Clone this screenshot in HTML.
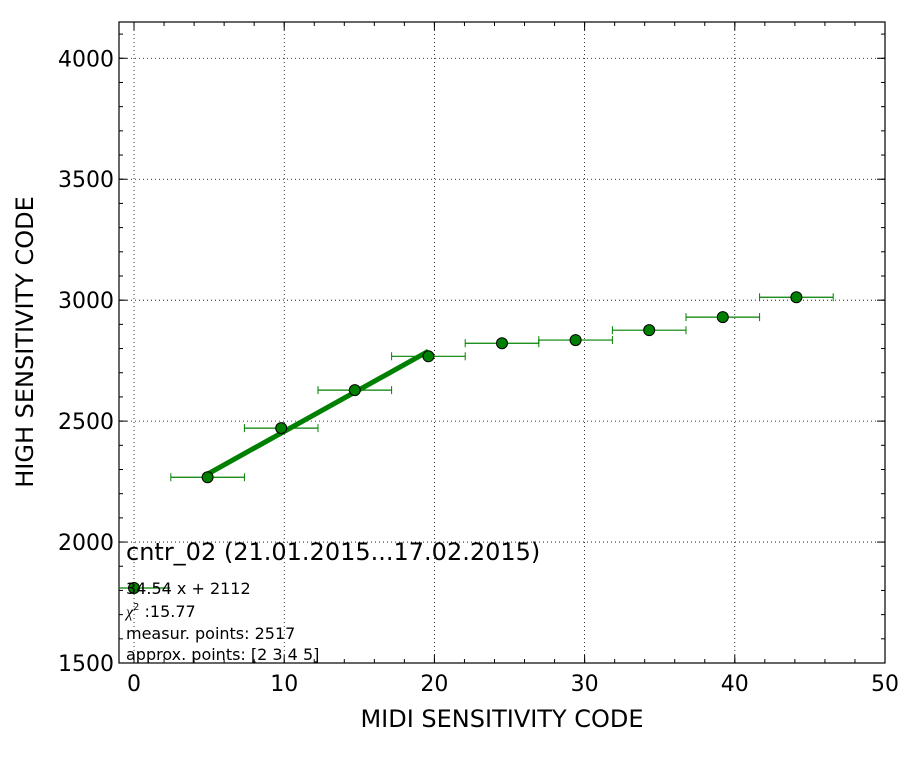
<!DOCTYPE html>
<html><head><meta charset="utf-8"><style>body{margin:0;background:#fff}svg{display:block;font-family:"DejaVu Sans","Liberation Sans",sans-serif}</style></head>
<body>
<svg id="c" width="912" height="762" xmlns="http://www.w3.org/2000/svg"></svg>
<script>
const xVals=[4.9,9.8,14.7,19.6,24.5,29.4,34.3,39.2,44.1];
const yVals=[2268,2471,2628,2768,2822,2835,2876,2930,3012];
const xErr=[2.45,2.45,2.45,2.45,2.45,2.45,2.45,2.45,2.45];
const xTicks=[0,10,20,30,40,50];
const yTicks=[1500,2000,2500,3000,3500,4000];
const fitSlope=[34.54];
const fitIntercept=[2112];
const fitRange=[4.9,19.6];
const L=119,R=885,T=22,B=663,x0=-1,x1=50,y0=1500,y1=4150;
const sx=v=>L+(v-x0)/(x1-x0)*(R-L);
const sy=v=>B-(v-y0)/(y1-y0)*(B-T);
const svg=document.getElementById('c');const NS='http://www.w3.org/2000/svg';
function el(t,a,p){const e=document.createElementNS(NS,t);for(const k in a)e.setAttribute(k,a[k]);(p||svg).appendChild(e);return e;}
// grid
xTicks.forEach(v=>{if(v>x0&&v<x1){const g=el('line',{x1:sx(v),x2:sx(v),y1:T,y2:B,stroke:'#000','stroke-dasharray':'1,3','stroke-width':0.8});

}});
yTicks.forEach(v=>{const g=el('line',{x1:L,x2:R,y1:sy(v),y2:sy(v),stroke:'#000','stroke-dasharray':'1,3','stroke-width':0.8});

});
// minor ticks
for(let v=0;v<=50;v+=2){const x=sx(v);el('line',{x1:x,x2:x,y1:B,y2:B-4,stroke:'#000'});el('line',{x1:x,x2:x,y1:T,y2:T+4,stroke:'#000'});}
for(let v=1500;v<=4100;v+=100){const y=sy(v);el('line',{x1:L,x2:L+4,y1:y,y2:y,stroke:'#000'});el('line',{x1:R,x2:R-4,y1:y,y2:y,stroke:'#000'});}
xTicks.forEach(v=>{const x=sx(v);el('line',{x1:x,x2:x,y1:B,y2:B-8,stroke:'#000'});el('line',{x1:x,x2:x,y1:T,y2:T+8,stroke:'#000'});
const t=el('text',{x:x,y:B+28,'text-anchor':'middle','font-size':22});t.textContent=v;

});
yTicks.forEach(v=>{const y=sy(v);el('line',{x1:L,x2:L+8,y1:y,y2:y,stroke:'#000'});el('line',{x1:R,x2:R-8,y1:y,y2:y,stroke:'#000'});
const t=el('text',{x:L-5,y:y+8,'text-anchor':'end','font-size':22});t.textContent=v;

});
// error bars + points
xVals.forEach((v,i)=>{const y=sy(yVals[i]),a=sx(v-xErr[i]),b=sx(v+xErr[i]);
const g=el('g',{});


el('line',{x1:a,x2:b,y1:y,y2:y,stroke:'#008000','stroke-width':1.2},g);
el('line',{x1:a,x2:a,y1:y-4,y2:y+4,stroke:'#008000'},g);el('line',{x1:b,x2:b,y1:y-4,y2:y+4,stroke:'#008000'},g);});
// fit line
const fl=el('line',{x1:sx(fitRange[0]),y1:sy(fitSlope[0]*fitRange[0]+fitIntercept[0]),x2:sx(fitRange[1]),y2:sy(fitSlope[0]*fitRange[1]+fitIntercept[0]),stroke:'#008000','stroke-width':5});


xVals.forEach((v,i)=>{const c=el('circle',{cx:sx(v),cy:sy(yVals[i]),r:5.5,fill:'#008000',stroke:'#000','stroke-width':1});

});
// frame
el('rect',{x:L,y:T,width:R-L,height:B-T,fill:'none',stroke:'#000','stroke-width':1.2});
</script>
<svg width="912" height="762" style="position:absolute;left:0;top:0" xmlns="http://www.w3.org/2000/svg" font-family="DejaVu Sans, Liberation Sans, sans-serif">
<text x="502" y="727" text-anchor="middle" font-size="24">MIDI SENSITIVITY CODE</text>
<text transform="translate(33,342) rotate(-90)" text-anchor="middle" font-size="24">HIGH SENSITIVITY CODE</text>
<g>
<text x="126" y="560" font-size="24">cntr_02 (21.01.2015...17.02.2015)</text>
<line x1="119" x2="170" y1="588" y2="588" stroke="#008000" stroke-width="1.2"/>
<circle cx="134" cy="588" r="5.5" fill="#008000" stroke="#000"/>
<text x="126" y="594" font-size="16">34.54 x + 2112</text>
<text x="126" y="617" font-size="16"><tspan font-style="italic" font-family="Liberation Serif, serif">χ</tspan><tspan font-size="10" dy="-7">2</tspan><tspan dy="7"> :15.77</tspan></text>
<text x="126" y="639" font-size="16">measur. points: 2517</text>
<text x="126" y="660" font-size="16">approx. points: [2 3 4 5]</text>
</g>
</svg>
</body></html>
